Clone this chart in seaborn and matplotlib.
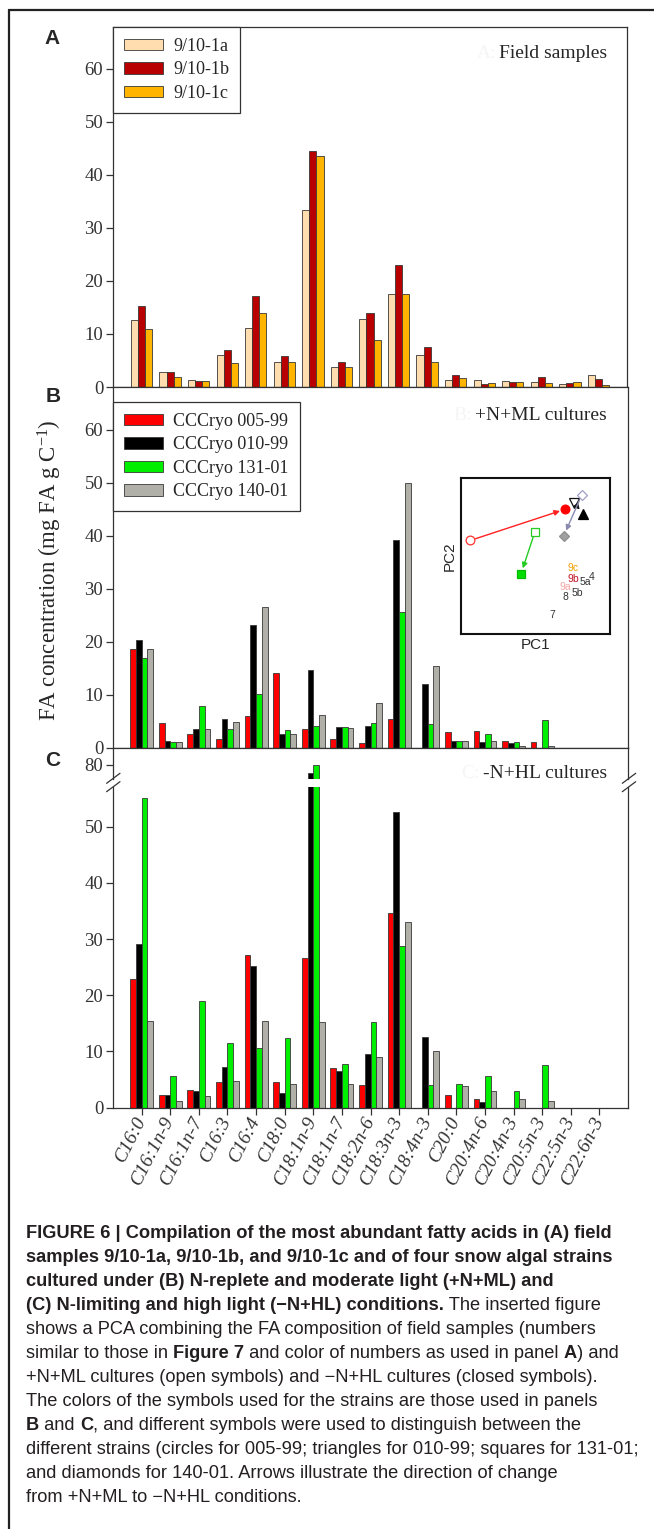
import matplotlib
matplotlib.use("Agg")
import matplotlib.pyplot as plt
import seaborn as sns
import pandas as pd
from matplotlib.lines import Line2D

# fatty acids on the x axis (shared by all three panels)
fatty_acids = ["C16:0", "C16:1n-9", "C16:1n-7", "C16:3", "C16:4", "C18:0",
               "C18:1n-9", "C18:1n-7", "C18:2n-6", "C18:3n-3", "C18:4n-3",
               "C20:0", "C20:4n-6", "C20:4n-3", "C20:5n-3", "C22:5n-3", "C22:6n-3"]

# panel A - field samples (mg FA g C-1)
field_samples = ["9/10-1a", "9/10-1b", "9/10-1c"]
field_1a = [12.6, 2.8, 1.3, 6.0, 11.2, 4.8, 33.3, 3.8, 12.8, 17.6, 6.0, 1.3, 1.4, 1.2, 0.9, 0.6, 2.3]
field_1b = [15.2, 2.8, 1.2, 6.9, 17.2, 5.8, 44.6, 4.7, 14.0, 23.1, 7.5, 2.3, 0.6, 1.0, 1.8, 0.7, 1.5]
field_1c = [11.0, 1.9, 1.1, 4.6, 14.0, 4.8, 43.6, 3.8, 8.9, 17.5, 4.7, 1.7, 0.7, 0.9, 0.8, 0.9, 0.4]

# panel B - +N+ML cultures
strains = ["CCCryo 005-99", "CCCryo 010-99", "CCCryo 131-01", "CCCryo 140-01"]
ml_005 = [18.7, 4.6, 2.5, 1.6, 6.0, 14.1, 3.5, 1.6, 0.9, 5.5, 0.0, 2.9, 3.2, 1.2, 1.0, 0.0, 0.0]
ml_010 = [20.3, 1.3, 3.5, 5.4, 23.1, 2.5, 14.6, 3.9, 4.1, 39.3, 12.0, 1.3, 1.1, 0.9, 0.0, 0.0, 0.0]
ml_131 = [16.9, 1.1, 7.9, 3.5, 10.1, 3.3, 4.1, 3.9, 4.6, 25.7, 4.4, 1.3, 2.5, 1.0, 5.2, 0.0, 0.0]
ml_140 = [18.6, 1.1, 3.5, 4.9, 26.5, 2.5, 6.1, 3.8, 8.4, 49.9, 15.4, 1.2, 1.3, 0.4, 0.3, 0.0, 0.0]

# panel C - -N+HL cultures
hl_005 = [22.9, 2.3, 3.1, 4.6, 27.2, 4.6, 26.7, 7.1, 4.1, 34.6, 0.0, 2.2, 1.6, 0.0, 0.0, 0.0, 0.0]
hl_010 = [29.2, 2.3, 3.0, 7.2, 25.3, 2.7, 78.5, 6.6, 9.5, 52.6, 12.6, 0.0, 1.1, 0.0, 0.0, 0.0, 0.0]
hl_131 = [55.1, 5.7, 19.0, 11.6, 10.6, 12.4, 80.0, 7.8, 15.3, 28.8, 4.1, 4.3, 5.7, 2.9, 7.6, 0.0, 0.0]
hl_140 = [15.5, 1.2, 2.0, 4.7, 15.5, 4.3, 15.2, 4.3, 9.1, 33.1, 10.1, 3.8, 3.0, 1.5, 1.2, 0.0, 0.0]

# inset PCA scores (relative PC1 / PC2 positions)
pca_ml_x = [0.063, 0.76, 0.497, 0.81]   # open symbols: 005, 010, 131, 140
pca_ml_y = [0.60, 0.84, 0.657, 0.89]
pca_hl_x = [0.70, 0.82, 0.403, 0.69]    # closed symbols
pca_hl_y = [0.80, 0.77, 0.387, 0.63]
pca_field_labels = ["9c", "9b", "5a", "4", "9a", "5b", "8", "7"]
pca_field_x = [0.755, 0.755, 0.835, 0.88, 0.70, 0.78, 0.70, 0.615]
pca_field_y = [0.42, 0.355, 0.335, 0.365, 0.30, 0.265, 0.235, 0.121]

field_colors = ["#FFDDAE", "#B80000", "#FFB400"]
strain_colors = ["#FF0000", "#000000", "#00EE00", "#B0B0A8"]
label_colors = ["#F0A000", "#C01020", "#333333", "#333333", "#F5A5A5", "#333333", "#333333", "#333333"]

W, H = 654, 1529

sns.set_style("ticks")
plt.rcParams["font.family"] = ["Liberation Serif", "DejaVu Serif"]
plt.rcParams["mathtext.default"] = "regular"
plt.rcParams["axes.linewidth"] = 0.9
plt.rcParams["axes.edgecolor"] = "#333333"
plt.rcParams["xtick.color"] = "#333333"
plt.rcParams["ytick.color"] = "#333333"

fig = plt.figure(figsize=(W / 100, H / 100), dpi=100)


def px_axes(x0, y0, x1, y1):
    return fig.add_axes([x0 / W, 1 - y1 / H, (x1 - x0) / W, (y1 - y0) / H])


def fx(x):
    return x / W


def fy(y):
    return 1 - y / H


def long_table(groups, series):
    rows = []
    for name, vals in zip(groups, series):
        for fa, v in zip(fatty_acids, vals):
            rows.append({"fa": fa, "group": name, "value": v})
    return pd.DataFrame(rows)


df_a = long_table(field_samples, [field_1a, field_1b, field_1c])
df_b = long_table(strains, [ml_005, ml_010, ml_131, ml_140])
df_c = long_table(strains, [hl_005, hl_010, hl_131, hl_140])

ax_a = px_axes(113, 27, 627, 387)
ax_b = px_axes(113, 387, 628, 747.7)
ax_cu = px_axes(113, 747.7, 628, 779)
ax_cl = px_axes(113, 787, 628, 1107.7)

bar_kw = dict(x="fa", y="value", hue="group", order=fatty_acids, errorbar=None,
              edgecolor="#383838", linewidth=0.6, saturation=1)
sns.barplot(data=df_a, hue_order=field_samples, palette=field_colors, width=0.75, ax=ax_a, **bar_kw)
for ax, df in [(ax_b, df_b), (ax_cu, df_c), (ax_cl, df_c)]:
    sns.barplot(data=df, hue_order=strains, palette=strain_colors, width=0.8, ax=ax, **bar_kw)

for ax in [ax_a, ax_b, ax_cu, ax_cl]:
    ax.set_xlim(-1, 17)
    ax.set_xlabel("")
    ax.set_ylabel("")
    ax.tick_params(axis="both", direction="out", length=5, width=0.9, labelsize=13.5, pad=2)
    if ax.get_legend() is not None:
        ax.get_legend().remove()

ax_a.set_ylim(0, 67.9)
ax_a.set_yticks(range(0, 61, 10))
ax_a.tick_params(labelbottom=False)
ax_b.set_ylim(0, 68.1)
ax_b.set_yticks(range(0, 61, 10))
ax_b.tick_params(labelbottom=False)

ax_cu.set_ylim(77.5, 83.07)
ax_cu.set_yticks([80])
ax_cu.spines["bottom"].set_visible(False)
ax_cu.tick_params(bottom=False, labelbottom=False)
ax_cl.set_ylim(0, 57.06)
ax_cl.set_yticks(range(0, 51, 10))
ax_cl.spines["top"].set_visible(False)
ax_cl.set_xticks(range(len(fatty_acids)))
ax_cl.set_xticklabels(fatty_acids, rotation=63, ha="right", va="center",
                      rotation_mode="anchor", fontstyle="italic", fontsize=14)

# broken axis marks
for xc in (113.3, 629):
    for yc in (778.3, 786.7):
        fig.add_artist(Line2D([fx(xc - 6.7), fx(xc + 6.7)], [fy(yc + 5), fy(yc - 5)],
                              color="#333333", lw=0.9))

# legends
leg_kw = dict(loc="upper left", borderaxespad=0, frameon=True, fancybox=False,
              edgecolor="#333333", framealpha=1, prop={"family": "Liberation Serif", "size": 13},
              handlelength=2.15, handleheight=0.62, labelspacing=0.36, borderpad=0.6,
              handletextpad=0.6)
h, l = ax_a.get_legend_handles_labels()
leg = ax_a.legend(h[:3], l[:3], bbox_to_anchor=(0, 1), **leg_kw)
leg.get_frame().set_linewidth(0.9)
h, l = ax_b.get_legend_handles_labels()
leg = ax_b.legend(h[:4], l[:4], bbox_to_anchor=(0, 1 - 15 / 360.7), **leg_kw)
leg.get_frame().set_linewidth(0.9)

# panel titles and letters
renderer = fig.canvas.get_renderer()
for ghost, title, y in [("A:", "Field samples", 53), ("B:", "+N+ML cultures", 415), ("C:", "-N+HL cultures", 773)]:
    t = fig.text(fx(607), fy(y), title, ha="right", va="center", fontsize=14, family="Liberation Serif")
    bb = t.get_window_extent(renderer)
    fig.text(bb.x0 / W - 3 / W, fy(y), ghost, ha="right", va="center", fontsize=14,
             family="Liberation Serif", color="#f5f5f5")

for letter, x, y in [("A", 52, 39), ("B", 53, 396), ("C", 53, 761)]:
    fig.text(fx(x), fy(y), letter, ha="center", va="center", fontsize=15, fontweight="bold",
             family="Liberation Sans")

fig.text(fx(50), fy(570), "FA concentration (mg FA g C$^{-1}$)", rotation=90, ha="center",
         va="center", fontsize=16.5, family="Liberation Serif")

# inset PCA
ax_in = px_axes(461, 478, 610, 634)
ax_in.set_xlim(0, 1)
ax_in.set_ylim(0, 1)
ax_in.set_xticks([])
ax_in.set_yticks([])
for s in ax_in.spines.values():
    s.set_linewidth(1.5)
    s.set_color("#111111")
ax_in.set_xlabel("PC1", family="Liberation Sans", fontsize=11, labelpad=3)
ax_in.set_ylabel("PC2", family="Liberation Sans", fontsize=11, labelpad=3)

arrow_colors = ["#FF2020", "#111111", "#22CC22", "#8A8AB0"]
for i in range(4):
    ax_in.annotate("", xy=(pca_hl_x[i], pca_hl_y[i]), xytext=(pca_ml_x[i], pca_ml_y[i]),
                   arrowprops=dict(arrowstyle="-|>", color=arrow_colors[i], lw=1.0,
                                   shrinkA=4, shrinkB=4, mutation_scale=8))
ml_style = [("o", "white", "#FF3030", 6.3), ("v", "white", "#111111", 6.5),
            ("s", "white", "#22CC22", 5.5), ("D", "white", "#A0A0C8", 5.5)]
hl_style = [("o", "#FF0000", "#FF0000", 6.3), ("^", "#000000", "#000000", 6.5),
            ("s", "#00DD00", "#00BB00", 5.5), ("D", "#A0A0A0", "#909090", 5.5)]
for i in range(4):
    m, fc, ec, ms = ml_style[i]
    ax_in.plot(pca_ml_x[i], pca_ml_y[i], marker=m, mfc=fc, mec=ec, ms=ms, mew=0.9, ls="none")
    m, fc, ec, ms = hl_style[i]
    ax_in.plot(pca_hl_x[i], pca_hl_y[i], marker=m, mfc=fc, mec=ec, ms=ms, mew=0.9, ls="none")
for lab, x, y, c in zip(pca_field_labels, pca_field_x, pca_field_y, label_colors):
    ax_in.text(x, y, lab, color=c, fontsize=7.5, family="Liberation Sans", ha="center", va="center")

# outer frame
fig.add_artist(Line2D([fx(9), fx(9)], [fy(10), 0], color="#222222", lw=1.6))
fig.add_artist(Line2D([fx(9), 1], [fy(10), fy(10)], color="#222222", lw=1.6))

# caption, sized so that the longest regular line spans the same width as in the original
cap_family = "Liberation Sans"
probe = fig.text(0, 0, "different strains (circles for 005-99; triangles for 010-99; squares for 131-01;",
                 fontsize=10, family=cap_family)
cap_size = 10 * 614 / probe.get_window_extent(renderer).width
probe.remove()

caption = [
    [("FIGURE 6 | Compilation of the most abundant fatty acids in (A) field", True)],
    [("samples 9/10-1a, 9/10-1b, and 9/10-1c and of four snow algal strains", True)],
    [("cultured under (B) N-replete and moderate light (+N+ML) and", True)],
    [("(C) N-limiting and high light (\u2212N+HL) conditions.", True), (" The inserted figure", False)],
    [("shows a PCA combining the FA composition of field samples (numbers", False)],
    [("similar to those in ", False), ("Figure 7", True),
     (" and color of numbers as used in panel ", False), ("A", True), (") and", False)],
    [("+N+ML cultures (open symbols) and \u2212N+HL cultures (closed symbols).", False)],
    [("The colors of the symbols used for the strains are those used in panels", False)],
    [("B", True), (" and ", False), ("C", True),
     (", and different symbols were used to distinguish between the", False)],
    [("different strains (circles for 005-99; triangles for 010-99; squares for 131-01;", False)],
    [("and diamonds for 140-01. Arrows illustrate the direction of change", False)],
    [("from +N+ML to \u2212N+HL conditions.", False)],
]
for i, segs in enumerate(caption):
    y = 1233 + 24 * i
    x = 26
    for txt, bold in segs:
        t = fig.text(fx(x), fy(y), txt, ha="left", va="center", fontsize=cap_size,
                     fontweight="bold" if bold else "normal", family=cap_family, color="#231f20")
        x += t.get_window_extent(renderer).width

fig.savefig("out.png", dpi=100)
